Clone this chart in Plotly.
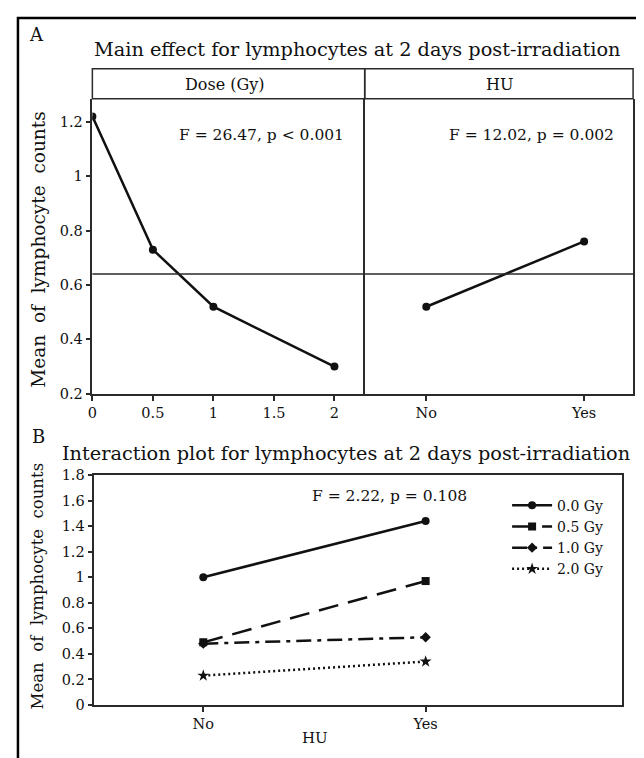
import plotly.graph_objects as go

# ---- data ----
dose_levels = [0, 0.5, 1, 2]
dose_means = [1.22, 0.73, 0.52, 0.30]
hu_levels = ["No", "Yes"]
hu_means = [0.52, 0.76]
grand_mean = 0.64

series_names = ["0.0 Gy", "0.5 Gy", "1.0 Gy", "2.0 Gy"]
series_no_yes = [
    [1.00, 1.44],
    [0.49, 0.97],
    [0.48, 0.53],
    [0.23, 0.34],
]
top_y_ticks = [0.2, 0.4, 0.6, 0.8, 1, 1.2]
bottom_y_ticks = [0, 0.2, 0.4, 0.6, 0.8, 1, 1.2, 1.4, 1.6, 1.8]
dose_ticks = [0, 0.5, 1, 1.5, 2]

# page body has an 8px margin; size the figure to fill the rest of the window
OFF = 8
W, H = 644 - OFF, 758 - OFF
FONT = "DejaVu Serif"
INK = "#111111"
AX = "#2a2a2a"


def px(x):
    return (x - OFF) / W


def py(y):
    return 1 - (y - OFF) / H


fig = go.Figure()

fig.add_trace(go.Scatter(x=dose_levels, y=dose_means, mode="lines+markers",
                         line=dict(color=INK, width=2.5),
                         marker=dict(symbol="circle", size=8, color=INK),
                         xaxis="x", yaxis="y", showlegend=False))
fig.add_trace(go.Scatter(x=hu_levels, y=hu_means, mode="lines+markers",
                         line=dict(color=INK, width=2.5),
                         marker=dict(symbol="circle", size=8, color=INK),
                         xaxis="x2", yaxis="y2", showlegend=False))

styles = [
    dict(dash="solid", symbol="circle", size=8),
    dict(dash="20px,10px", symbol="square", size=8),
    dict(dash="15px,6px,4px,6px", symbol="diamond", size=8),
    dict(dash="2px,3px", symbol="star", size=9),
]
for name, vals, st in zip(series_names, series_no_yes, styles):
    fig.add_trace(go.Scatter(x=hu_levels, y=vals, name=name, mode="lines+markers",
                             line=dict(color=INK, width=2.5, dash=st["dash"]),
                             marker=dict(symbol=st["symbol"], size=st["size"], color=INK),
                             xaxis="x3", yaxis="y3"))

axis_common = dict(showline=True, linecolor=AX, linewidth=1.5,
                   showgrid=False, zeroline=False, ticks="outside",
                   ticklen=5, tickwidth=1.5, tickcolor=AX,
                   tickfont=dict(family=FONT, size=14.5, color=INK))

top_y0, top_y1 = 394, 92.5
fig.update_layout(
    width=W, height=H,
    margin=dict(l=0, r=0, t=0, b=0),
    paper_bgcolor="white", plot_bgcolor="white",
    font=dict(family=FONT, color=INK),
    xaxis=dict(domain=[px(88), px(362.5)], range=[0, 2.25], tickvals=dose_ticks,
               anchor="y", mirror=False, **axis_common),
    yaxis=dict(domain=[py(top_y0), py(top_y1)], range=[0.2, 1.285], tickvals=top_y_ticks,
               anchor="x", mirror=False, **axis_common),
    xaxis2=dict(domain=[px(362.5), px(633)], type="category", range=[-0.39, 1.31],
                anchor="y2", mirror=False, **axis_common),
    yaxis2=dict(domain=[py(top_y0), py(top_y1)], matches="y", anchor="x2",
                showline=True, linecolor=AX, linewidth=1.5, mirror=True,
                showgrid=False, zeroline=False, showticklabels=False, ticks=""),
    xaxis3=dict(domain=[px(90), px(622)], type="category", range=[-0.49, 1.884],
                anchor="y3", mirror=True, **axis_common),
    yaxis3=dict(domain=[py(712), py(477)], range=[0, 1.8], tickvals=bottom_y_ticks,
                anchor="x3", mirror=True, **axis_common),
    legend=dict(x=px(506), y=py(492), xanchor="left", yanchor="top",
                font=dict(family=FONT, size=14, color=INK),
                bgcolor="rgba(0,0,0,0)", itemwidth=40, tracegroupgap=0),
)

shapes = [
    # outer frame
    dict(type="rect", xref="paper", yref="paper", x0=px(13), x1=1.1, y0=-0.1, y1=py(10),
         line=dict(color="black", width=2.5)),
    # header strips (bottom edge of strip = top edge of panels)
    dict(type="rect", xref="paper", yref="paper", x0=px(88), x1=px(362.5), y0=py(92.5), y1=py(62),
         line=dict(color=AX, width=1.5)),
    dict(type="rect", xref="paper", yref="paper", x0=px(362.5), x1=px(633), y0=py(92.5), y1=py(62),
         line=dict(color=AX, width=1.5)),
    # grand mean reference lines
    dict(type="line", xref="x domain", yref="y", x0=0, x1=1, y0=grand_mean, y1=grand_mean,
         line=dict(color=AX, width=1.5)),
    dict(type="line", xref="x2 domain", yref="y2", x0=0, x1=1, y0=grand_mean, y1=grand_mean,
         line=dict(color=AX, width=1.5)),
]


def ann(text, x, y, size, angle=0, xanchor="center"):
    return dict(text=text, x=px(x), y=py(y), xref="paper", yref="paper",
                showarrow=False, xanchor=xanchor, yanchor="middle", textangle=angle,
                font=dict(family=FONT, size=size, color=INK))


annotations = [
    ann("A", 32, 27, 18),
    ann("Main effect for lymphocytes at 2 days post-irradiation", 355.5, 42, 19.3),
    ann("Dose (Gy)", 222, 78, 16),
    ann("HU", 498, 78, 16),
    ann("F = 26.47, p < 0.001", 258, 129.5, 15.5),
    ann("F = 12.02, p = 0.002", 531, 130, 15.5),
    ann("Mean  of  lymphocyte  counts", 34, 247, 18.5, angle=-90),
    ann("B", 34, 438, 18),
    ann("Interaction plot for lymphocytes at 2 days post-irradiation", 343.5, 455, 19.3),
    ann("F = 2.22, p = 0.108", 468, 498, 15.5, xanchor="right"),
    ann("Mean  of  lymphocyte  counts", 33, 590, 16.5, angle=-90),
    ann("HU", 312, 746, 15),
]

fig.update_layout(shapes=shapes, annotations=annotations)
fig.write_html("out.html")
